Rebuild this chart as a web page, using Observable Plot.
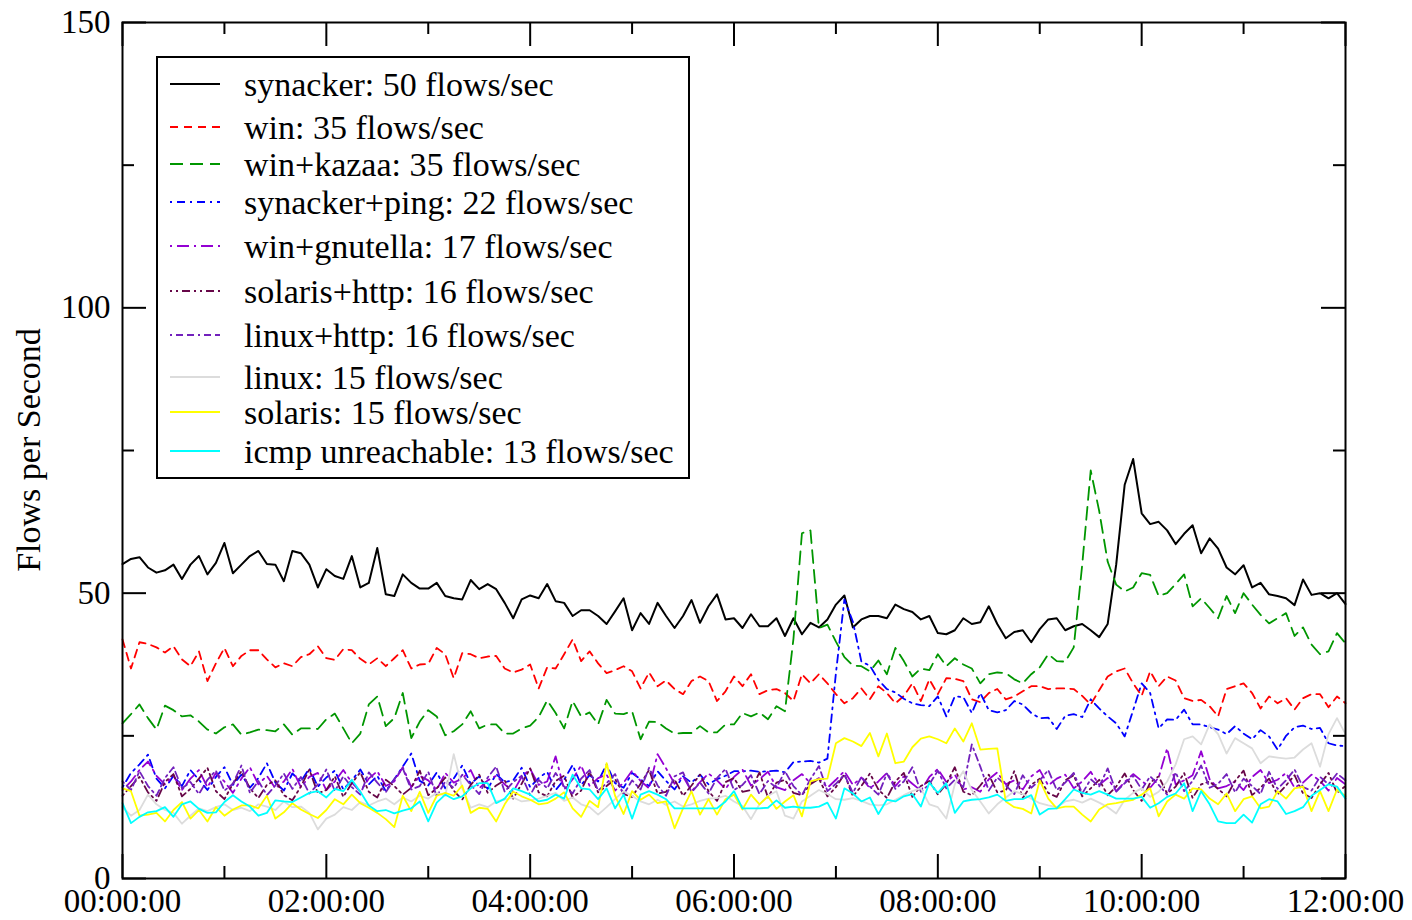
<!DOCTYPE html>
<html>
<head>
<meta charset="utf-8">
<script src="https://cdn.jsdelivr.net/npm/d3@7"></script>
<script src="https://cdn.jsdelivr.net/npm/@observablehq/plot@0.6"></script>
<style>
  body { margin: 0; background: #fff; }
  #chart svg { display: block; }
</style>
</head>
<body>
<div id="chart"></div>
<script>
// Flow rates sampled every 5 minutes over a 12-hour window.
const SAMPLE_MINUTES = 5;

const seriesNames = [
  "synacker", "win", "win+kazaa", "synacker+ping", "win+gnutella",
  "solaris+http", "linux+http", "linux", "solaris", "icmp unreachable"
];
const seriesRates = [50, 35, 35, 22, 17, 16, 16, 15, 15, 13];

const synacker = [
  55.1, 56, 56.3, 54.5, 53.6, 54, 55, 52.5, 55, 56.5,
  53.3, 55.3, 58.8, 53.5, 55, 56.5, 57.4, 55.1, 55, 52.1,
  57.4, 57, 55, 51, 54.2, 53, 52.5, 56.5, 51, 51.8,
  57.9, 49.8, 49.5, 53.3, 51.8, 50.8, 50.8, 51.8, 49.5, 49.1,
  48.9, 52.3, 50.7, 51.6, 50.7, 48.3, 45.6, 48.9, 49.6, 49.1,
  51.6, 48.6, 48.3, 46, 47, 47, 46, 44.6, 46.8, 49.1,
  43.5, 46.5, 44.6, 48.3, 46, 43.9, 46, 48.8, 44.8, 47.7,
  49.8, 45.4, 45.6, 43.9, 46.3, 44.2, 44.2, 45.6, 42.5, 45.6,
  42.8, 44.8, 44, 45.4, 48, 49.6, 44, 45.4, 46, 46,
  45.6, 48, 47.2, 46.7, 45.4, 46, 43, 42.8, 43.5, 45.6,
  44.6, 44.9, 47.7, 44.6, 42.1, 43.2, 43.5, 41.4, 43.7, 45.4,
  45.6, 43.5, 44.2, 44.6, 43.5, 42.3, 44.6, 55, 69, 73.5,
  64, 62.1, 62.5, 61, 58.6, 60.4, 61.9, 57, 59.6, 57.8,
  54.5, 53.3, 54.9, 51, 51.8, 49.8, 49.5, 49.1, 47.9, 52.4,
  49.7, 50, 49.1, 50, 48.1
];

const win = [
  41.9, 36.8, 41.4, 41.1, 40.5, 39.6, 40.7, 38.4, 37.2, 39.8,
  34.6, 37.7, 40.4, 37.2, 39, 40, 40, 38.4, 37, 37.7,
  37.2, 38.8, 39.3, 40.7, 38.6, 38.3, 40.2, 40, 38.5, 37.5,
  38.6, 37.2, 38.6, 40, 36.8, 37.5, 37.6, 40.4, 39.3, 35.1,
  39.5, 39.3, 38.6, 38.9, 39, 36.8, 36.1, 36.6, 37.5, 33.3,
  37, 36.8, 39.3, 41.9, 38.1, 39.8, 37.7, 36, 36.5, 37.2,
  36.3, 33.3, 36.1, 33.7, 34.7, 33.2, 32.3, 34.6, 35.4, 34.6,
  31.1, 32.8, 35.4, 33.7, 35.8, 32.3, 33, 33.2, 32.5, 31.1,
  35.8, 34.2, 35.8, 34.2, 32.3, 30.7, 31.6, 33.3, 31.4, 33.7,
  32.5, 30.7, 32, 34.2, 31.1, 34.9, 32.3, 35.1, 35, 34.6,
  31.4, 30.9, 32.5, 33.2, 31.4, 31.9, 32.8, 33.7, 33.7, 33.2,
  33.3, 33.3, 33.2, 32, 30.5, 33, 35.4, 36.3, 36.8, 34.2,
  32, 36.3, 33.7, 35.4, 34.7, 31.6, 31.1, 31.3, 30.2, 28.4,
  33.2, 33.7, 34.2, 32.5, 29.8, 31.9, 30.7, 31.6, 29.6, 31.6,
  32.3, 32.3, 30, 31.9, 30.7
];

const winKazaa = [
  27.2, 28.8, 30.5, 28.1, 26.1, 30.3, 29.5, 28.4, 28.6, 27.5,
  26.1, 25.4, 26.5, 27, 25.2, 25.6, 26.1, 26, 25.8, 27,
  25.2, 26.3, 26.3, 26.2, 27.9, 28.9, 26.3, 23.7, 25.4, 30.5,
  31.9, 26.7, 28.1, 32.5, 24.6, 27.5, 29.5, 28.4, 25.1, 25.8,
  27, 29.3, 26.3, 27, 27, 25.4, 25.4, 26.3, 26.8, 28.3,
  31.2, 29, 26.3, 31.1, 28.4, 29.1, 27, 31.3, 28.9, 28.8,
  29.3, 24.4, 27.5, 27.4, 26.3, 25.4, 25.5, 25.5, 26.7, 25.6,
  25.6, 27, 27, 29, 28.4, 29.1, 27.9, 30.2, 29.3, 42,
  60.5, 61, 43.9, 44.5, 41.5, 38.8, 37.3, 37.2, 36.3, 38.2,
  35.8, 40.4, 38.1, 35.4, 36.8, 36.5, 39.3, 37.2, 38.6, 37.5,
  36.8, 34.2, 35.8, 36.1, 36, 34.9, 34.2, 35.8, 37, 39.3,
  38.1, 38, 40.5, 55, 71.5, 64.4, 55.5, 51.5, 50.3, 51,
  53.5, 53.2, 49.5, 50, 51.6, 53.3, 47.7, 49.1, 47.4, 45.6,
  49.5, 46.5, 50, 48, 46.2, 44.7, 45.6, 46.5, 42.5, 44,
  41, 39.3, 39.8, 43, 41.2
];

const synackerPing = [
  16, 18.5, 20, 21.7, 17.5, 15.8, 18, 16.2, 19, 17.3,
  15.5, 17.8, 19.5, 16.4, 18.2, 15.9, 17.6, 20.2, 16.8, 15.4,
  18.4, 17, 19.3, 16.1, 17.7, 18.9, 15.6, 17.2, 19.1, 16.5,
  18, 15.3, 17.4, 19.6, 21.9, 17.1, 16.3, 18.6, 15.8, 17.5,
  19.8, 16.6, 17.9, 15.7, 18.3, 16.9, 17.2, 19.4, 16, 17.6,
  18.7, 15.5, 17.3, 19.9, 16.4, 18.1, 17, 20, 16.7, 15.9,
  18.5, 17.4, 16.2, 18.8, 17.1, 15.6, 17.9, 16.8, 18.2, 16.5,
  17.4, 18, 18.8, 18.8, 18.9, 18.7, 18.8, 18.9, 18.6, 20.4,
  20.5, 20.6, 20.3, 21, 36, 48.9, 45, 38, 37.3, 34.8,
  33.2, 32.6, 31.5, 30.7, 30.4, 30.2, 31.9, 28.4, 31.9, 31.8,
  29, 32.5, 29.5, 29.1, 29.5, 31.1, 30.5, 29, 28.1, 28.2,
  26.2, 28.5, 28.8, 28.3, 31.4, 29.8, 28.4, 27.2, 24.9, 29.5,
  34.2, 32.5, 26.3, 27.9, 27.8, 29.6, 27, 27, 26.5, 26.1,
  25.3, 26.7, 25.4, 24.4, 26, 24.9, 22.6, 25, 26.5, 26.8,
  26.2, 26.4, 23.7, 23.3, 23.2
];

const winGnutella = [
  15.5, 17, 19, 20.5, 18, 16.5, 18, 15.5, 17.5, 19,
  16, 18.5, 17, 15, 17.5, 19.5, 16.5, 18, 15.8, 17,
  19.2, 16, 17.8, 18.5, 15.5, 17, 19, 16.8, 15.2, 17.5,
  18.8, 16.2, 17, 19.5, 16, 18, 17.2, 15.5, 18.5, 16.8,
  17.5, 19, 15.8, 17.2, 18, 16.5, 15.2, 17.8, 19.2, 16.4,
  17, 21.4, 15.6, 17.4, 19.8, 16.2, 17.6, 18.2, 15.4, 16.8,
  18.9, 17.1, 15.8, 21.8, 19.3, 16.6, 17.9, 15.3, 16.9, 18.4,
  17.2, 15.7, 17.8, 19.1, 16.3, 17.4, 18.7, 16, 15.5, 17.2,
  18.3, 16.7, 17.6, 15.9, 17.3, 18.8, 16.4, 17.7, 15.8, 17,
  18.5, 16.2, 17.9, 16.6, 15.4, 17.8, 19.2, 16.9, 18.2, 15.6,
  16, 15.2, 17.4, 18.6, 16.5, 17.2, 15.6, 17.9, 19, 16.3,
  17.5, 18.2, 15.8, 17, 18.7, 16.4, 17.6, 15.3, 16.9, 18.3,
  17.1, 15.9, 17.7, 22.8, 16.5, 17.2, 18.1, 22.3, 17.4, 15.8,
  16.2, 17, 15.5, 17.8, 19, 16.7, 17.3, 18.5, 15.9, 16.8,
  18.2, 17.1, 15.4, 17.6, 16.5
];

const solarisHttp = [
  14.5, 16.2, 17.8, 15.1, 13.6, 16.9, 18.3, 14.4, 15.7, 17.5,
  19.4, 15.3, 13.9, 16.6, 18.8, 15.8, 14.1, 16.4, 17.2, 14.6,
  13.7, 16.1, 19.1, 14.9, 15.5, 17.9, 14.3, 16.7, 18.6, 15.2,
  14.2, 17.3, 16.2, 14.7, 15.9, 18.9, 14.6, 15.8, 17.7, 15.4,
  13.8, 16.4, 18.2, 15, 16.3, 17.2, 14, 16.6, 19.3, 15.1,
  14.4, 17.1, 18, 14.2, 15.4, 18.7, 15.1, 16.2, 17.4, 14.8,
  14.3, 16.6, 19, 14.9, 15.2, 17.4, 14.5, 16.3, 18.2, 15.3,
  13.6, 16.9, 17.6, 15.2, 15.5, 18.6, 14.2, 16.8, 17.3, 15,
  14.6, 16.5, 17.5, 14.4, 16, 18.3, 14.4, 16.2, 18.4, 15.6,
  14.1, 17, 18.5, 14.3, 16.2, 17.1, 14.7, 16.6, 19.5, 15.2,
  14.6, 16.3, 18.2, 15.1, 15.4, 18.8, 14.1, 16.4, 17.5, 15,
  14.3, 17.2, 18.1, 14.4, 15.8, 17.3, 14.6, 16.1, 18.4, 15.5,
  13.6, 16.8, 17.9, 14.9, 16.1, 18.5, 14.1, 16.5, 17, 15.7,
  14.4, 17.1, 18.9, 14.6, 15.9, 17.5, 14.7, 16.3, 18.1, 14.9,
  14.1, 16.5, 18.5, 15, 16.2
];

const linuxHttp = [
  17, 15.5, 18.8, 16.2, 14.5, 17.6, 19.5, 15.8, 16.9, 14.8,
  17.3, 18.9, 15.4, 16.6, 19.8, 15, 17.1, 14.6, 16.3, 18.4,
  15.7, 17.8, 14.9, 16.5, 19.1, 15.3, 17.9, 16, 14.7, 18.6,
  16.8, 15.1, 17.4, 19.3, 15.6, 16.2, 18.7, 14.4, 17, 15.9,
  18.2, 16.4, 14.8, 17.7, 19.6, 15.2, 16.9, 18, 14.6, 17.3,
  15.8, 18.5, 16.1, 14.9, 17.5, 19, 15.4, 16.7, 18.3, 14.7,
  17.2, 15.6, 19.4, 16.3, 14.5, 17.9, 18.6, 15.1, 16.8, 14.9,
  17.6, 19.2, 15.5, 16.4, 18.1, 14.8, 17.1, 15.9, 18.8, 16.2,
  14.6, 17.4, 19.7, 15.3, 16.6, 18.2, 15, 17.8, 16.1, 14.7,
  18.4, 15.7, 17, 19.5, 15.2, 16.5, 18.9, 15.8, 17.3, 16,
  23.5, 19.6, 15.4, 17.7, 16.3, 14.8, 18.1, 15.9, 17.2, 19,
  15.5, 16.8, 18.5, 14.9, 17.4, 16.1, 19.3, 15.2, 16.7, 18,
  15.6, 17.9, 16.4, 14.7, 18.6, 15.3, 17.1, 19.8, 15.9, 16.6,
  18.3, 15.1, 17.5, 16.2, 14.8, 18.7, 15.7, 17.2, 19.1, 16,
  15.4, 17.8, 16.5, 18.4, 17.2
];

const linux = [
  12.5, 11, 12, 14.7, 13, 12, 11.5, 9.6, 11, 12.3,
  11.8, 12.5, 13, 12, 12.4, 11.8, 13, 12.6, 12, 13.5,
  12.5, 12.6, 11.5, 8.6, 10.5, 11.2, 12.5, 12, 13.4, 12.8,
  13.5, 14, 13, 14.2, 13.5, 14.5, 14, 15, 14.5, 21.8,
  15.8, 12.4, 13, 12.5, 13.5, 13.8, 14.2, 13.5, 13.7, 14,
  14.5, 15, 13.6, 14.2, 13, 12.5, 11.2, 12.5, 13.9, 15.3,
  14.5, 13.5, 13, 13.8, 12.9, 13.5, 12.6, 13, 13.6, 14,
  14.1, 14.5, 13.5, 12.7, 10.4, 13, 14.5, 15.3, 11, 10.5,
  13.5, 14.5, 15.5, 14.8, 13.9, 13.8, 14.1, 13.6, 13, 12.8,
  13, 13.8, 14.6, 15.3, 15.8, 13, 12.5, 10.5, 16.5, 18.8,
  15.5, 13.5, 11.4, 13, 14.2, 15.3, 14.8, 14, 13.2, 12.8,
  12.5, 13.5, 13.8, 13.3, 14, 13.3, 12.5, 11.4, 13.8, 15,
  15.8, 14.3, 15.2, 17, 20, 24.4, 24.9, 23.5, 27, 25.3,
  21.9, 24.6, 23.7, 22.8, 20.2, 21.4, 21.2, 21, 21.2, 22.6,
  23.7, 19.6, 25.3, 28.1, 25.3
];

const solaris = [
  15.8, 15.3, 11, 11.2, 11.5, 10, 12, 13.4, 10.5, 12,
  10, 12.5, 11, 12.1, 12.8, 12.8, 12.3, 14.5, 10.5, 11.6,
  13.2, 12.1, 11.3, 10.6, 12, 13.9, 13, 14.7, 13.2, 12.4,
  11.5, 10.4, 9, 14.5, 11.8, 15.2, 11.5, 14.5, 15, 14.5,
  16.3, 11.5, 12.4, 12.2, 10, 13, 15.2, 14.4, 13.8, 13,
  13.2, 14, 15.1, 12.3, 10.8, 13.6, 12.5, 20.2, 14.5, 11.3,
  15.3, 13.8, 14.7, 13.2, 13.5, 8.8, 12.3, 15.3, 11.2, 13.9,
  11.2, 13.9, 14.7, 12.1, 14.7, 13, 14.4, 12.2, 13.5, 14.6,
  10.9, 17, 17.4, 17.5, 23.7, 24.6, 24, 23.2, 25.5, 21.4,
  25.4, 20.2, 20.5, 23, 24.5, 24.9, 24.4, 23.7, 26.3, 24,
  27.2, 22.6, 22.7, 22.8, 13.5, 12.5, 12.2, 11.4, 17.2, 14,
  12.3, 12.6, 12.6, 11.2, 10, 12.1, 13, 13.2, 13.5, 13.8,
  14.7, 15.8, 10.9, 13.5, 14.7, 14, 15.8, 15.6, 14, 13,
  14.9, 11.8, 13.9, 14.4, 12.3, 12.6, 15.3, 14, 15.8, 16.1,
  11.8, 15.3, 11.8, 15.6, 14.4
];

const icmpUnreachable = [
  13.2, 9.7, 10.8, 11.6, 11.8, 12.5, 10.8, 13, 13.5, 12.2,
  11.5, 11.6, 13.4, 14.6, 13.5, 12.6, 11, 11.5, 13.7, 13.5,
  13.4, 14.2, 15, 15.3, 14.2, 15.7, 15.3, 17.3, 15.2, 12.8,
  11.8, 12, 11.4, 11.9, 12.3, 13.5, 10, 13.3, 14.7, 13.9,
  14.4, 15.8, 16.7, 16.7, 13.2, 14, 15.8, 15.3, 14.7, 13.5,
  13.8, 14.7, 14, 18.2, 15.8, 15.6, 13.9, 15.8, 12.3, 14.7,
  10.5, 14.7, 15.3, 14.7, 13.9, 12.3, 12.3, 12.3, 12.3, 12.3,
  12.3, 13.5, 15.3, 12.3, 12.3, 12.3, 12.4, 13.7, 12.4, 12.6,
  12.4, 12.4, 12.6, 13.3, 10.5, 15.8, 14.9, 13.5, 14.2, 11.3,
  13.8, 13.5, 14.4, 14.8, 12.6, 16.8, 15, 16.7, 11.5, 13.5,
  13.8, 13.9, 14.2, 14.7, 13.6, 13.9, 13.9, 14.6, 11.2, 12.2,
  12.3, 13.9, 15.6, 15, 14.7, 15.3, 14.7, 14, 14, 14,
  14.3, 12.4, 13.2, 14.3, 14.9, 16.7, 11.8, 15.3, 13, 10,
  9.7, 9.7, 11.2, 9.8, 13, 13.9, 13.5, 11.3, 11.8, 12.5,
  14.5, 15.5, 16.5, 16.1, 14
];

const seriesValues = [
  synacker, win, winKazaa, synackerPing, winGnutella,
  solarisHttp, linuxHttp, linux, solaris, icmpUnreachable
];

const xMajorTicks = [0, 2, 4, 6, 8, 10, 12];
const xMinorTicks = [1, 3, 5, 7, 9, 11];
const xTickLabels = ["00:00:00", "02:00:00", "04:00:00", "06:00:00", "08:00:00", "10:00:00", "12:00:00"];
const yMajorTicks = [0, 50, 100, 150];
const yMinorTicks = [25, 75, 125];
const yTickLabels = ["0", "50", "100", "150"];

// Drawing styles, in the same order as the series.
const seriesStyles = [
  {stroke: "#000000", dash: null, width: 2},
  {stroke: "#ff0000", dash: "8,6", width: 1.8},
  {stroke: "#009600", dash: "13,7", width: 1.8},
  {stroke: "#0000ff", dash: "2,5,8,5", width: 1.8},
  {stroke: "#9400d3", dash: "2,5,12,5", width: 1.8},
  {stroke: "#670748", dash: "2,4,2,4,8,4", width: 1.8},
  {stroke: "#7221bc", dash: "2,4,7,4,7,4", width: 1.8},
  {stroke: "#dcdcdc", dash: null, width: 1.8},
  {stroke: "#ffff00", dash: null, width: 1.8},
  {stroke: "#00ffff", dash: null, width: 1.8}
];

const W = 1412, H = 920;
const M = {left: 122, right: 67, top: 22, bottom: 42};
const FW = W - M.left - M.right;
const FH = H - M.top - M.bottom;
const MAJOR = 24, MINOR = 12;
const FONT = "'Liberation Serif', 'Times New Roman', Times, serif";

const hoursAt = (d, i) => i * SAMPLE_MINUTES / 60;

const lineMarks = seriesValues.map((values, k) => Plot.line(values, {
  x: hoursAt,
  y: d => d,
  stroke: seriesStyles[k].stroke,
  strokeWidth: seriesStyles[k].width,
  strokeDasharray: seriesStyles[k].dash,
  strokeLinejoin: "round"
}));

const tickStyle = {stroke: "black", strokeWidth: 2};

const chart = Plot.plot({
  width: W,
  height: H,
  marginLeft: M.left,
  marginRight: M.right,
  marginTop: M.top,
  marginBottom: M.bottom,
  style: {fontFamily: FONT, fontSize: "33px", color: "black", background: "white"},
  x: {domain: [0, 12], label: null},
  y: {domain: [0, 150], label: null},
  marks: [
    ...lineMarks,
    // inward ticks on all four sides
    Plot.tickX(xMajorTicks, {x: d => d, insetTop: FH - MAJOR, ...tickStyle}),
    Plot.tickX(xMinorTicks, {x: d => d, insetTop: FH - MINOR, ...tickStyle}),
    Plot.tickX(xMajorTicks, {x: d => d, insetBottom: FH - MAJOR, ...tickStyle}),
    Plot.tickX(xMinorTicks, {x: d => d, insetBottom: FH - MINOR, ...tickStyle}),
    Plot.tickY(yMajorTicks, {y: d => d, insetRight: FW - MAJOR, ...tickStyle}),
    Plot.tickY(yMinorTicks, {y: d => d, insetRight: FW - MINOR, ...tickStyle}),
    Plot.tickY(yMajorTicks, {y: d => d, insetLeft: FW - MAJOR, ...tickStyle}),
    Plot.tickY(yMinorTicks, {y: d => d, insetLeft: FW - MINOR, ...tickStyle}),
    Plot.axisX(xMajorTicks, {
      tickSize: 0, tickPadding: 10, label: null,
      tickFormat: d => xTickLabels[xMajorTicks.indexOf(d)]
    }),
    Plot.axisY(yMajorTicks, {
      tickSize: 0, tickPadding: 12, label: null,
      tickFormat: d => yTickLabels[yMajorTicks.indexOf(d)]
    }),
    Plot.frame({stroke: "black", strokeWidth: 2})
  ]
});

document.getElementById("chart").appendChild(chart);

const svg = d3.select(chart);

// vertical axis title
svg.append("text")
  .attr("transform", `translate(40, ${M.top + FH / 2}) rotate(-90)`)
  .attr("text-anchor", "middle")
  .attr("font-family", FONT)
  .attr("font-size", 34)
  .attr("fill", "black")
  .text("Flows per Second");

// legend box
const legendBox = {x: 157, y: 57, w: 532, h: 421};
const legendRowY = [84, 127, 164, 202, 246, 291, 335, 377, 412, 451];
const legend = svg.append("g").attr("text-anchor", "start");
legend.append("rect")
  .attr("x", legendBox.x).attr("y", legendBox.y)
  .attr("width", legendBox.w).attr("height", legendBox.h)
  .attr("fill", "white").attr("stroke", "black").attr("stroke-width", 2);

seriesNames.forEach((name, k) => {
  const y = legendRowY[k];
  const s = seriesStyles[k];
  legend.append("line")
    .attr("x1", 170).attr("x2", 220).attr("y1", y).attr("y2", y)
    .attr("stroke", s.stroke).attr("stroke-width", s.width)
    .attr("stroke-dasharray", s.dash);
  legend.append("text")
    .attr("x", 244).attr("y", y + 11.5)
    .attr("text-anchor", "start")
    .attr("font-family", FONT).attr("font-size", 34).attr("fill", "black")
    .text(`${name}: ${seriesRates[k]} flows/sec`);
});
</script>
</body>
</html>
